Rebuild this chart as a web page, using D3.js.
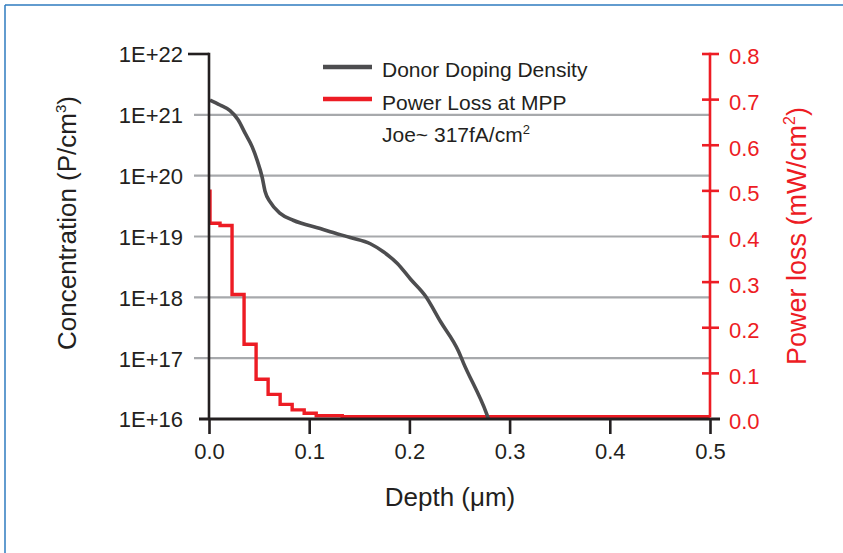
<!DOCTYPE html>
<html>
<head>
<meta charset="utf-8">
<script src="https://cdn.jsdelivr.net/npm/d3@7"></script>
<style>
  body { margin: 0; background: #fff; }
  text { font-family: "Liberation Sans", Arial, Helvetica, sans-serif; }
</style>
</head>
<body>
<div class="root"></div>
<script>

var depthTicks = [0, 0.1, 0.2, 0.3, 0.4, 0.5];
var concTicks  = [1e16, 1e17, 1e18, 1e19, 1e20, 1e21, 1e22];
var lossTicks  = [0, 0.1, 0.2, 0.3, 0.4, 0.5, 0.6, 0.7, 0.8];

// donor doping density (P/cm3) vs depth (um)
var dopingDepth = [0.001, 0.011, 0.021, 0.029, 0.036, 0.043, 0.048, 0.053, 0.056, 0.061, 0.071, 0.084,
                   0.111, 0.121, 0.141, 0.161, 0.174, 0.188, 0.201, 0.216, 0.231, 0.249, 0.254, 0.277, 0.279];
var dopingConc  = [1.75e21, 1.45e21, 1.17e21, 8.3e20, 5.0e20, 3.0e20, 1.8e20, 9.5e19, 5.5e19, 3.7e19, 2.4e19, 1.85e19,
                   1.35e19, 1.2e19, 9.6e18, 7.6e18, 5.6e18, 3.6e18, 2.0e18, 1.05e18, 4.0e17, 1.3e17, 8.3e16, 1.23e16, 1e16];

// power loss at MPP (mW/cm2) vs depth (um)
var lossDepth = [0.001, 0.001, 0.011, 0.023, 0.035, 0.047, 0.059, 0.071, 0.083, 0.095, 0.107, 0.133, 0.5];
var lossValue = [0.503, 0.429, 0.424, 0.273, 0.164, 0.087, 0.054, 0.032, 0.020, 0.0125, 0.007, 0.005, 0.005];

var width = 843, height = 553;
var plotLeft = 209, plotRight = 710, plotTop = 54, plotBottom = 419;

var ink = '#231f20', red = '#ed1c24', grey = '#4d4d4f', gridCol = '#a7a9ac';

var svg = d3.select('.root')
            .append('svg')
            .attr('width', width)
            .attr('height', height);

// frame (only top and left edges show)
svg.append('line').attr('x1', 5).attr('y1', 5).attr('x2', width).attr('y2', 5)
   .style('stroke', '#2e7bbf').style('stroke-width', 1.5);
svg.append('line').attr('x1', 5).attr('y1', 5).attr('x2', 5).attr('y2', height)
   .style('stroke', '#2e7bbf').style('stroke-width', 1.5);

var xScale = d3.scaleLinear().domain([0, 0.5]).range([plotLeft, plotRight]);
var yConc  = d3.scaleLog().domain([1e16, 1e22]).range([plotBottom, plotTop]);
var yLoss  = d3.scaleLinear().domain([0, 0.8]).range([plotBottom, plotTop]);

// gridlines
svg.append('g')
   .selectAll('line')
   .data(concTicks.slice(1, 6))
   .enter().append('line')
   .attr('x1', 194).attr('x2', plotRight)
   .attr('y1', d => yConc(d)).attr('y2', d => yConc(d))
   .style('stroke', gridCol).style('stroke-width', 2.2);

// lines
var lossLine = d3.line()
                 .x((d, i) => xScale(lossDepth[i]))
                 .y(d => yLoss(d))
                 .curve(d3.curveStepAfter);

svg.append('path')
   .datum(lossValue)
   .attr('d', lossLine)
   .style('stroke', red).style('stroke-width', 3.4).style('fill', 'none');

var dopingLine = d3.line()
                   .x((d, i) => xScale(dopingDepth[i]))
                   .y(d => yConc(d))
                   .curve(d3.curveMonotoneX);

svg.append('path')
   .datum(dopingConc)
   .attr('d', dopingLine)
   .style('stroke', grey).style('stroke-width', 3.6).style('fill', 'none')
   .style('stroke-linejoin', 'round');

// left axis
var leftAxis = svg.append('g')
                  .attr('transform', 'translate(' + plotLeft + ',0)')
                  .call(d3.axisLeft(yConc)
                          .tickValues(concTicks)
                          .tickSize(0)
                          .tickPadding(26)
                          .tickFormat(d => '1E+' + Math.round(Math.log10(d))));
leftAxis.select('.domain').remove();
leftAxis.selectAll('text')
        .style('font-size', '22px').style('fill', ink).attr('dy', '0.36em');

svg.append('line').attr('x1', 188).attr('x2', plotLeft).attr('y1', yConc(1e22)).attr('y2', yConc(1e22))
   .style('stroke', ink).style('stroke-width', 2.6);
svg.append('line').attr('x1', plotLeft).attr('x2', plotLeft).attr('y1', plotTop - 1.3).attr('y2', plotBottom)
   .style('stroke', ink).style('stroke-width', 2.6);

// bottom axis
var bottomAxis = svg.append('g')
                    .attr('transform', 'translate(0,' + plotBottom + ')')
                    .call(d3.axisBottom(xScale)
                            .tickValues(depthTicks)
                            .tickSize(15)
                            .tickPadding(9)
                            .tickFormat(d3.format('.1f')));
bottomAxis.select('.domain').remove();
bottomAxis.selectAll('line').style('stroke', ink).style('stroke-width', 2.6);
bottomAxis.selectAll('text').style('font-size', '22px').style('fill', ink);

svg.append('line').attr('x1', 199).attr('x2', 720).attr('y1', plotBottom).attr('y2', plotBottom)
   .style('stroke', ink).style('stroke-width', 2.8);

// right axis
svg.append('line').attr('x1', plotRight).attr('x2', plotRight).attr('y1', plotTop - 1.3).attr('y2', plotBottom - 1.4)
   .style('stroke', red).style('stroke-width', 2.6);

var rightAxis = svg.append('g')
                   .attr('transform', 'translate(' + plotRight + ',0)')
                   .call(d3.axisRight(yLoss)
                           .tickValues(lossTicks)
                           .tickSize(0)
                           .tickPadding(19)
                           .tickFormat(d3.format('.1f')));
rightAxis.select('.domain').remove();
rightAxis.selectAll('text')
         .style('font-size', '22px').style('fill', red).attr('dy', '0.45em');

svg.append('g')
   .selectAll('line')
   .data(lossTicks.slice(1))
   .enter().append('line')
   .attr('x1', 702).attr('x2', 719)
   .attr('y1', d => yLoss(d)).attr('y2', d => yLoss(d))
   .style('stroke', red).style('stroke-width', 2.6);

// axis titles
var yTitle = svg.append('text')
                .attr('transform', 'translate(76,223) rotate(-90)')
                .attr('text-anchor', 'middle')
                .style('font-size', '26px').style('fill', ink);
yTitle.append('tspan').text('Concentration (P/cm');
yTitle.append('tspan').text('3').style('font-size', '15px').attr('dy', '-10');
yTitle.append('tspan').text(')').attr('dy', '10');

var y2Title = svg.append('text')
                 .attr('transform', 'translate(806,236) rotate(-90)')
                 .attr('text-anchor', 'middle')
                 .style('font-size', '27px').style('fill', red);
y2Title.append('tspan').text('Power loss (mW/cm');
y2Title.append('tspan').text('2').style('font-size', '16px').attr('dy', '-11');
y2Title.append('tspan').text(')').attr('dy', '11');

svg.append('text')
   .attr('x', 450).attr('y', 506)
   .attr('text-anchor', 'middle')
   .style('font-size', '26px').style('fill', ink)
   .text('Depth (\u03bcm)');

// legend
var legend = svg.append('g');
legend.append('line').attr('x1', 323).attr('x2', 372).attr('y1', 67).attr('y2', 67)
      .style('stroke', grey).style('stroke-width', 4.5);
legend.append('line').attr('x1', 323).attr('x2', 372).attr('y1', 99).attr('y2', 99)
      .style('stroke', red).style('stroke-width', 4.5);
legend.append('text').attr('x', 382).attr('y', 77)
      .style('font-size', '21px').style('fill', ink).text('Donor Doping Density');
legend.append('text').attr('x', 382).attr('y', 109.5)
      .style('font-size', '21px').style('fill', ink).text('Power Loss at MPP');
var joe = legend.append('text').attr('x', 382).attr('y', 142)
                .style('font-size', '21px').style('fill', ink);
joe.append('tspan').text('Joe~ 317fA/cm');
joe.append('tspan').text('2').style('font-size', '13px').attr('dy', '-8');

</script>
</body>
</html>
